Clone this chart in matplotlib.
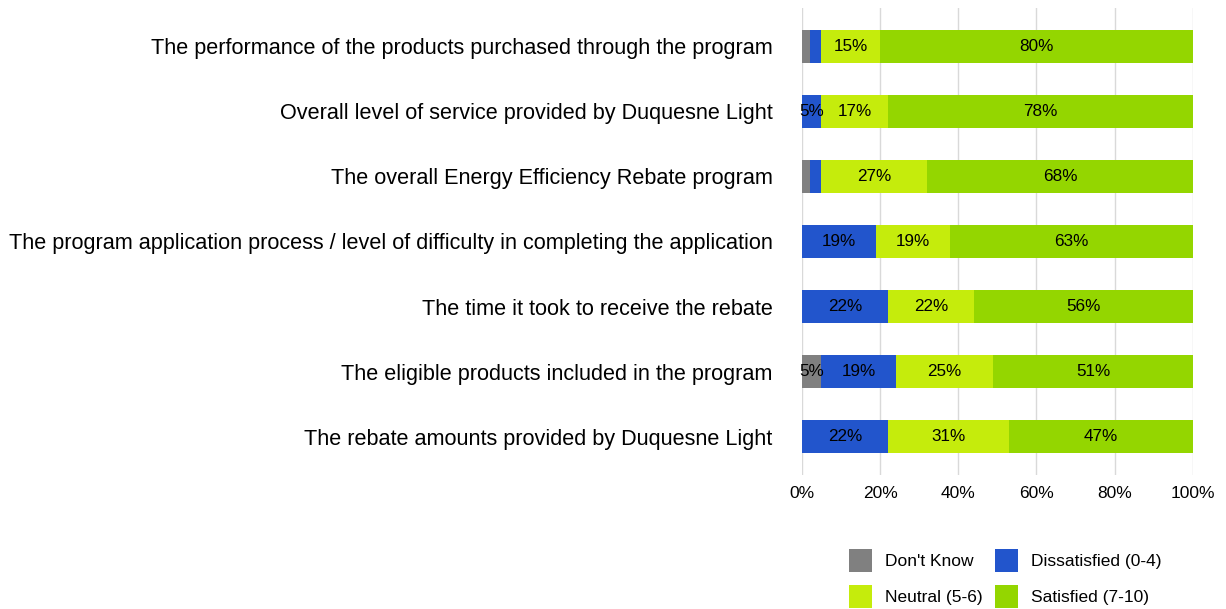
import matplotlib.pyplot as plt
import numpy as np

plt.rcParams["font.family"] = ["Liberation Sans", "DejaVu Sans"]

# %% Dane
kategorie = [
    "The performance of the products purchased through the program",
    "Overall level of service provided by Duquesne Light",
    "The overall Energy Efficiency Rebate program",
    "The program application process / level of difficulty in completing the application",
    "The time it took to receive the rebate",
    "The eligible products included in the program",
    "The rebate amounts provided by Duquesne Light",
]
dont_know = [2, 0, 2, 0, 0, 5, 0]
dissatisfied = [3, 5, 3, 19, 22, 19, 22]
neutral = [15, 17, 27, 19, 22, 25, 31]
satisfied = [80, 78, 68, 63, 56, 51, 47]

serie = [
    ("Don't Know", dont_know, "#808080"),
    ("Dissatisfied (0-4)", dissatisfied, "#2255cc"),
    ("Neutral (5-6)", neutral, "#c5ec0c"),
    ("Satisfied (7-10)", satisfied, "#94d600"),
]

# %% Wykres
fig = plt.figure(figsize=(12.26, 6.09), dpi=100)
ax = fig.add_axes([0.654, 0.22, 0.319, 0.767])

y = np.arange(len(kategorie))
lewo = np.zeros(len(kategorie))
for nazwa, wartosci, kolor in serie:
    w = np.array(wartosci, dtype=float)
    slupki = ax.barh(y, w, left=lewo, height=0.5, color=kolor, label=nazwa, zorder=2)
    etykiety = [f"{v:.0f}%" if v >= 5 else "" for v in w]
    ax.bar_label(slupki, labels=etykiety, label_type="center", fontsize=12.3, color="black")
    lewo += w

# ostatni słupek wystaje za 100% (zaokrąglenia), przycinamy osią
ax.set_xlim(0, 100)
ax.set_ylim(6.59, -0.59)
ax.set_yticks(y, kategorie, fontsize=15.6)
ax.set_xticks(np.arange(0, 101, 20), [f"{v}%" for v in range(0, 101, 20)], fontsize=12.5)
ax.tick_params(length=0)
ax.tick_params(axis="y", pad=21)
ax.tick_params(axis="x", pad=8)
ax.grid(axis="x", color="#d9d9d9", linewidth=1, zorder=0)
for s in ax.spines.values():
    s.set_visible(False)

# kolejność w legendzie: wierszami, nie kolumnami
uchwyty, nazwy = ax.get_legend_handles_labels()
kolejnosc = [0, 2, 1, 3]
fig.legend(
    [uchwyty[i] for i in kolejnosc],
    [nazwy[i] for i in kolejnosc],
    loc="center",
    bbox_to_anchor=(0.82, 0.05),
    ncol=2,
    frameon=False,
    fontsize=12.5,
    handlelength=1.3,
    handleheight=1.6,
    columnspacing=0.75,
    handletextpad=0.75,
    labelspacing=0.8,
)

fig.savefig("out.png", dpi=100)
